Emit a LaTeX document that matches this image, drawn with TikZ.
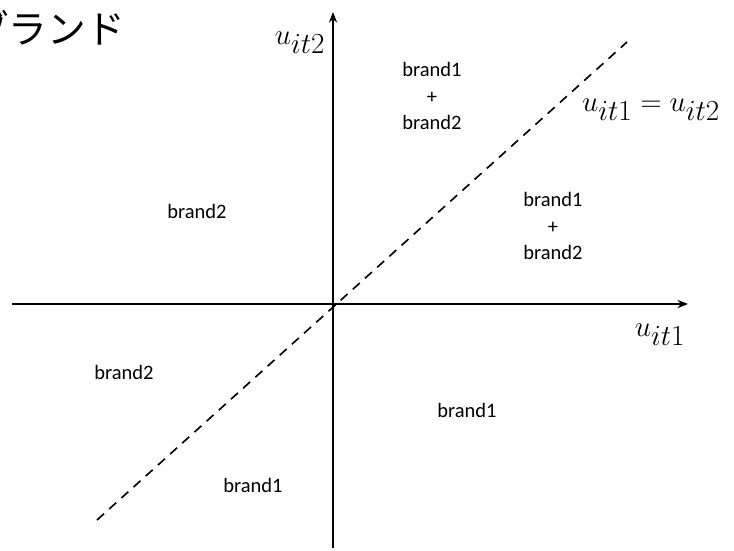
\documentclass[tikz,border=0pt]{standalone}
\usepackage{fontspec}
\setsansfont{Carlito}
\newfontfamily\jpfont{Noto Sans CJK JP}
\usetikzlibrary{arrows.meta,positioning}
\tikzset{plane/.style={
  x=0.03cm,y=-0.03cm,
  >={Stealth[length=9pt,width=7pt]},line join=round
},
axis/.style={->,line width=1.6pt},
tie/.style={dashed,line width=1.4pt,dash pattern=on 8pt off 6pt},
choice/.style={font=\sffamily\fontsize{17.5}{23}\selectfont,align=center},
varlabel/.style={font=\fontsize{35}{38}\selectfont}
}

\begin{document}
\begin{tikzpicture}[plane]
  \useasboundingbox (0,0) rectangle (734,550);
  \coordinate (O) at (333,304);
  \coordinate (W) at (12,304);
  \coordinate (E) at (688,304);
  \coordinate (S) at (333,548);
  \coordinate (N) at (333,12);
  \coordinate (SW) at (97,520);
  \coordinate (NE) at (627,42);
  \draw[tie] (SW)--(NE);
  \draw[axis] (W)--(E);
  \draw[axis] (S)--(N);
  \node[varlabel] (u2) at (300,43) {$u_{it2}$};
  \node[varlabel] (u1) at (660,335) {$u_{it1}$};
  \node[varlabel] (eq) at (651,110) {$u_{it1}=u_{it2}$};
  \node[anchor=west,inner sep=0pt,font=\jpfont\fontsize{33}{36}\selectfont] (title) at (-30,28) {ブランド};
  \node[choice] (both1) at (432,96) {brand1\\+\\brand2};
  \node[choice] (both2) at (553,226) {brand1\\+\\brand2};
  \node[choice] (b2up) at (197,211) {brand2};
  \node[choice] (b2lo) at (124,372) {brand2};
  \node[choice] (b1lo) at (467,410) {brand1};
  \node[choice] (b1sw) at (253,485) {brand1};
\end{tikzpicture}
\end{document}
